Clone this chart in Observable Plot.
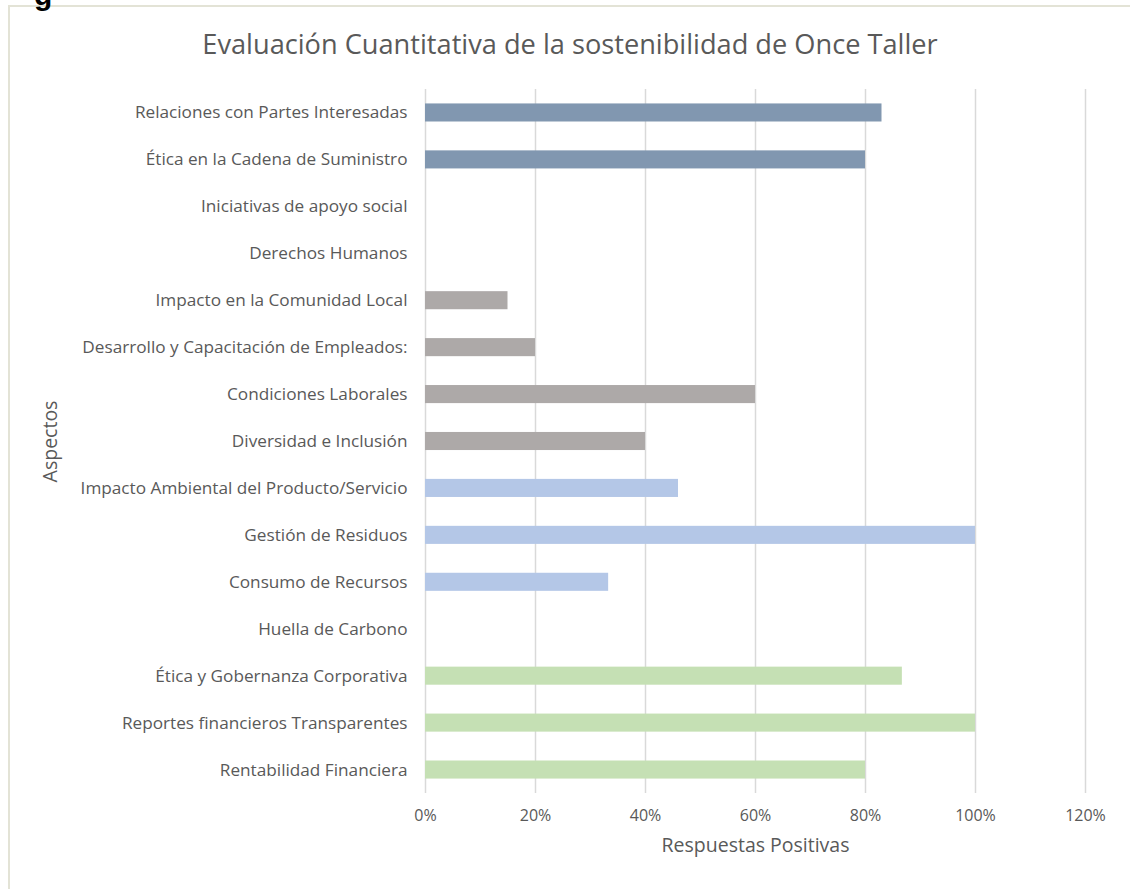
<!DOCTYPE html>
<html>
<head>
<meta charset="utf-8">
<script src="https://cdn.jsdelivr.net/npm/d3@7"></script>
<script src="https://cdn.jsdelivr.net/npm/@observablehq/plot@0.6"></script>
<style>
  html, body { margin: 0; padding: 0; background: #fff; }
  #wrap { position: relative; width: 1130px; height: 889px; overflow: hidden; background: #fff; font-family: "Open Sans", sans-serif; }
  #frame { position: absolute; left: 8px; top: 5px; width: 1140px; height: 900px; border-left: 2px solid #e3e3d6; border-top: 2px solid #e3e3d6; box-sizing: border-box; }
  #cut { position: absolute; left: 34px; top: -22px; font: bold 30px "Liberation Sans", sans-serif; color: #000; }
  #title { position: absolute; left: 0; width: 1140px; top: 26px; line-height: 36px; text-align: center; font-size: 27.2px; color: #595959; }
  #chart { position: absolute; left: 0; top: 0; }
</style>
</head>
<body>
<div id="wrap">
  <div id="chart"></div>
  <div id="frame"></div>
  <div id="cut">g</div>
  <div id="title">Evaluación Cuantitativa de la sostenibilidad de Once Taller</div>
</div>
<script>
const aspectos = [
  "Relaciones con Partes Interesadas",
  "Ética en la Cadena de Suministro",
  "Iniciativas de apoyo social",
  "Derechos Humanos",
  "Impacto en la Comunidad Local",
  "Desarrollo y Capacitación de Empleados:",
  "Condiciones Laborales",
  "Diversidad e Inclusión",
  "Impacto Ambiental del Producto/Servicio",
  "Gestión de Residuos",
  "Consumo de Recursos",
  "Huella de Carbono",
  "Ética y Gobernanza Corporativa",
  "Reportes financieros Transparentes",
  "Rentabilidad Financiera"
];
const valores = [0.83, 0.80, 0, 0, 0.15, 0.20, 0.60, 0.40, 0.46, 1.00, 0.333, 0, 0.867, 1.00, 0.80];
const grupos = ["Grupo A","Grupo A","Grupo B","Grupo B","Grupo B","Grupo B","Grupo B","Grupo B","Grupo C","Grupo C","Grupo C","Grupo C","Grupo D","Grupo D","Grupo D"];
const grupoNombres = ["Grupo A","Grupo B","Grupo C","Grupo D"];
const grupoColores = ["#8197B0","#ADA9A8","#B4C7E7","#C5E0B4"];
const xTicks = [0, 0.2, 0.4, 0.6, 0.8, 1.0, 1.2];

const data = aspectos.map((a, i) => ({aspecto: a, valor: valores[i], grupo: grupos[i]}));

const chart = Plot.plot({
  width: 1130,
  height: 889,
  marginLeft: 425,
  marginRight: 45,
  marginTop: 89,
  marginBottom: 96,
  style: {fontFamily: "Open Sans, sans-serif", fontSize: "16px", color: "#595959", background: "transparent"},
  x: {domain: [0, 1.2], ticks: xTicks, tickFormat: d => Math.round(d * 100) + "%", label: null},
  y: {domain: aspectos, label: null, paddingInner: 0.615, paddingOuter: 0.3075, round: false},
  color: {domain: grupoNombres, range: grupoColores},
  marks: [
    Plot.gridX(xTicks, {stroke: "#d9d9d9", strokeOpacity: 1, strokeWidth: 1.5}),
    Plot.barX(data, {x: "valor", y: "aspecto", fill: "grupo"}),
    Plot.axisX({ticks: xTicks, tickFormat: d => Math.round(d * 100) + "%", tickSize: 0, tickPadding: 16, fontSize: 16, label: null}),
    Plot.axisY({tickSize: 0, tickPadding: 18, fontSize: 17.2, label: null}),
    Plot.text(["Respuestas Positivas"], {frameAnchor: "bottom", dy: 58, fontSize: 19.5, fill: "#595959", x: 0.6}),
    Plot.text(["Aspectos"], {frameAnchor: "left", textAnchor: "middle", dx: -375, rotate: -90, fontSize: 19.5, fill: "#595959"})
  ]
});
document.getElementById("chart").appendChild(chart);
</script>
</body>
</html>
